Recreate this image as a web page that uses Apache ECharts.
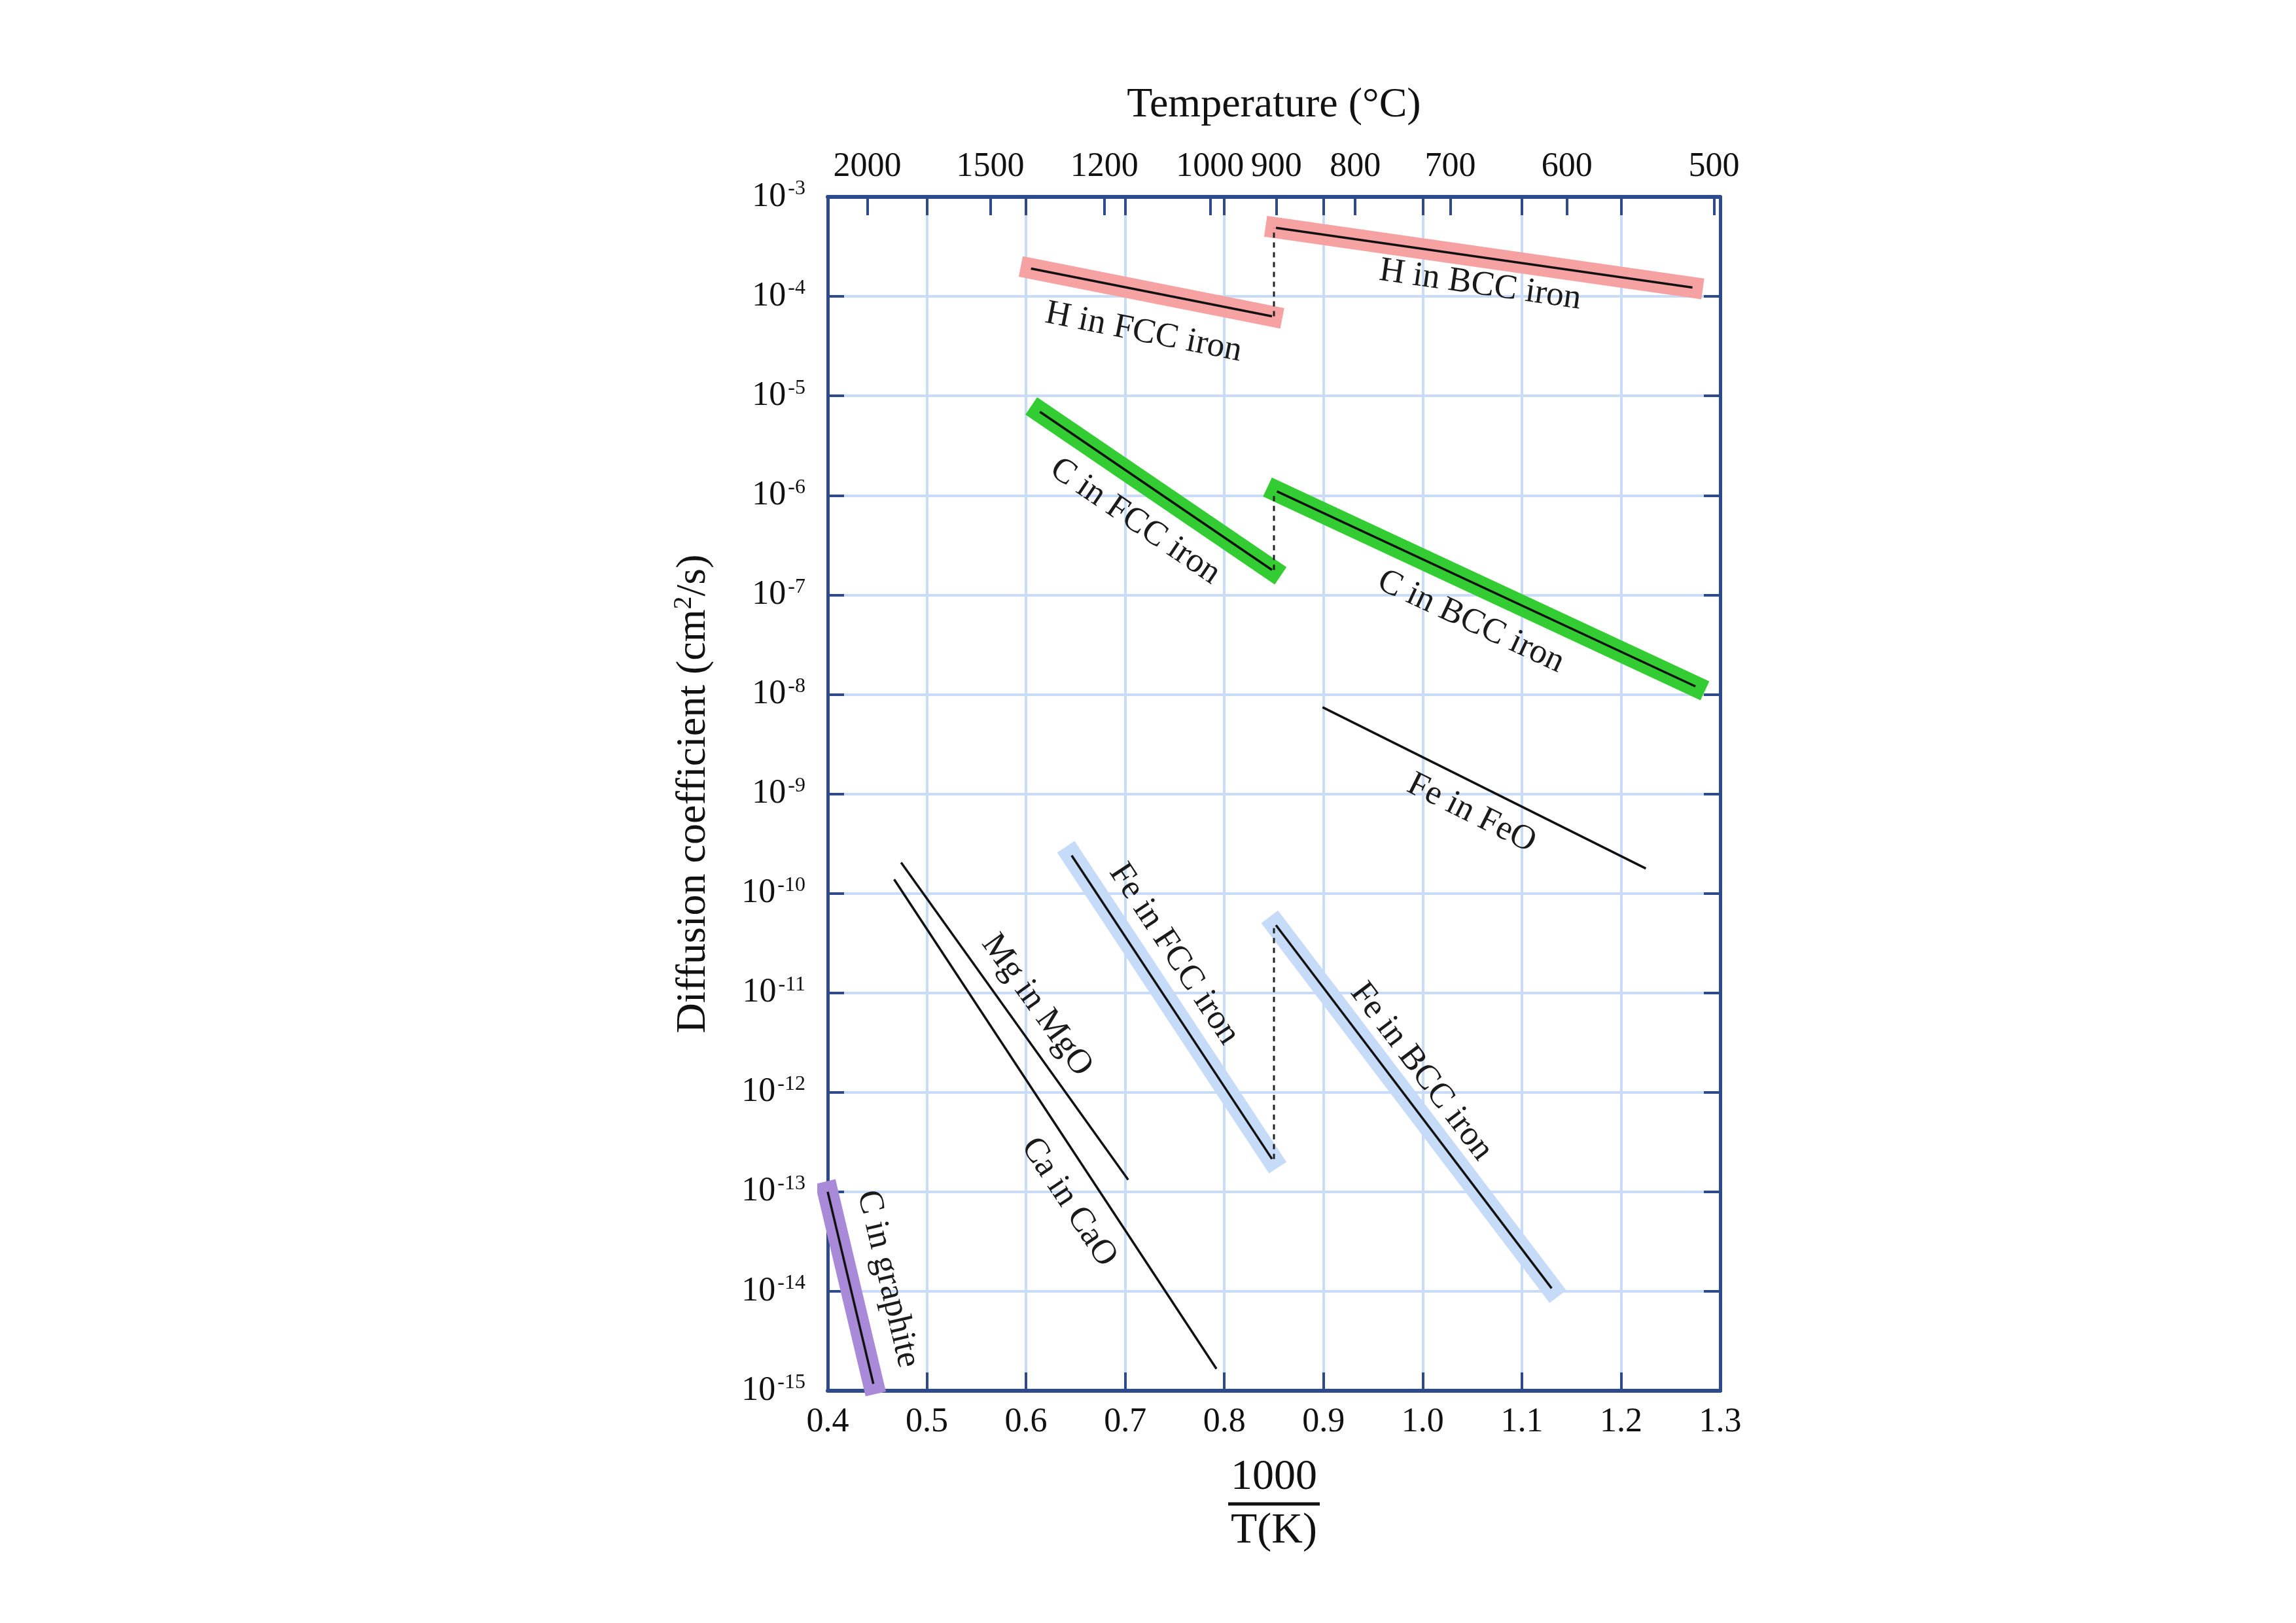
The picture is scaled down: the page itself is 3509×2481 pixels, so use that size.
<!DOCTYPE html>
<html><head><meta charset="utf-8">
<script src="https://cdn.jsdelivr.net/npm/echarts@6/dist/echarts.min.js"></script>
<style>html,body{margin:0;padding:0;background:#fff}#c{width:3509px;height:2481px}</style>
</head><body><div id="c"></div>
<script>
// ---- data (x = 1000/T(K), y = log10 D in cm^2/s) ----
const xTicks = [0.4,0.5,0.6,0.7,0.8,0.9,1.0,1.1,1.2,1.3];
const yExponents = [-15,-14,-13,-12,-11,-10,-9,-8,-7,-6,-5,-4,-3];
const tempLabelsC = [2000,1500,1200,1000,900,800,700,600,500];

const H_BCC   = [[0.852,-3.31],[1.272,-3.91]];
const H_FCC   = [[0.605,-3.72],[0.848,-4.20]];
const C_FCC   = [[0.614,-5.16],[0.848,-6.75]];
const C_BCC   = [[0.853,-5.96],[1.275,-7.92]];
const Fe_FeO  = [[0.899,-8.13],[1.225,-9.75]];
const Mg_MgO  = [[0.474,-9.69],[0.703,-12.88]];
const Ca_CaO  = [[0.467,-9.86],[0.792,-14.78]];
const Fe_FCC  = [[0.646,-9.62],[0.848,-12.67]];
const Fe_BCC  = [[0.852,-10.32],[1.130,-13.97]];
const C_graph = [[0.400,-13.00],[0.446,-14.93]];
const transitionX = 0.85;

// ---- styling ----
const FONT = '"Liberation Serif","DejaVu Serif",serif';
const NAVY = '#2c4a8c';
const GRID = '#c8dcf8';
const tempPos = tempLabelsC.map(t => 1000/(t+273));

const sets = [
  {name:'H in BCC iron',  data:H_BCC,  band:'#f6a2a2', pos:'insideMiddleBottom', dist:16},
  {name:'H in FCC iron',  data:H_FCC,  band:'#f6a2a2', pos:'insideMiddleBottom', dist:36},
  {name:'C in FCC iron',  data:C_FCC,  band:'#33cc33', pos:'insideMiddleBottom', dist:30},
  {name:'C in BCC iron',  data:C_BCC,  band:'#33cc33', pos:'insideMiddleBottom', dist:29},
  {name:'Fe in FeO',      data:Fe_FeO, band:null,      pos:'insideMiddleBottom', dist:17},
  {name:'Mg in MgO',      data:Mg_MgO, band:null,      pos:'insideMiddleTop',    dist:15},
  {name:'Ca in CaO',      data:Ca_CaO, band:null,      pos:'insideStartBottom',  dist:[447,22]},
  {name:'Fe in FCC iron', data:Fe_FCC, band:'#c6dbf7', pos:'insideStartTop',     dist:[52,21]},
  {name:'Fe in BCC iron', data:Fe_BCC, band:'#c6dbf7', pos:'insideStartTop',     dist:[150,15]},
  {name:'C in graphite',  data:C_graph,band:'#a98ad8', pos:'insideMiddleTop',    dist:32}
];
const connectors = [
  [[transitionX, H_FCC[1][1]], [transitionX, H_BCC[0][1]]],
  [[transitionX, C_FCC[1][1]], [transitionX, C_BCC[0][1]]],
  [[transitionX, Fe_FCC[1][1]], [transitionX, Fe_BCC[0][1]]]
];

const series = [];
sets.forEach(s => {
  if (s.band) series.push({
    type:'line', data:s.data, symbol:'none', silent:true, clip:false, z:2,
    lineStyle:{color:s.band, width:32, cap:'square'}, animation:false
  });
  series.push({
    type:'line', name:s.name, data:s.data, symbol:'none', silent:true, z:4, clip:false,
    lineStyle:{color:'#111', width:3.5}, animation:false,
    markLine:{
      silent:true, symbol:'none', animation:false,
      lineStyle:{color:'rgba(0,0,0,0)', width:0},
      label:{show:true, position:s.pos, formatter:s.name, fontFamily:FONT, fontSize:53, color:'#1a1a1a', distance:s.dist},
      data:[[{coord:s.data[0]},{coord:s.data[1]}]]
    }
  });
});
connectors.forEach(c => series.push({
  type:'line', data:c, symbol:'none', silent:true, z:3, animation:false,
  lineStyle:{color:'#222', width:3, type:[8,7]}
}));

const supLabel = v => '{b|10}{s|' + Math.round(v) + '}';

const option = {
  backgroundColor:'#fff',
  animation:false,
  grid:{left:1265, right:880, top:301, bottom:355, containLabel:false},
  xAxis:[
    {type:'value', position:'bottom', min:xTicks[0], max:xTicks[xTicks.length-1], interval:0.1,
     axisLine:{show:true, lineStyle:{color:NAVY, width:6}},
     axisTick:{show:true, inside:true, length:28, lineStyle:{color:NAVY, width:4}},
     axisLabel:{formatter:v => v.toFixed(1), fontFamily:FONT, fontSize:52, color:'#111', margin:22},
     splitLine:{show:true, lineStyle:{color:GRID, width:4}},
     name:'{n|1000}\n{bar|}\n{d|T(K)}', nameLocation:'middle', nameGap:100,
     nameTextStyle:{rich:{
       n:{fontFamily:FONT, fontSize:66, color:'#111', lineHeight:66},
       bar:{width:140, height:5, backgroundColor:'#111', lineHeight:14},
       d:{fontFamily:FONT, fontSize:66, color:'#111', lineHeight:70}
     }}
    },
    {type:'value', position:'top', min:xTicks[0], max:xTicks[xTicks.length-1],
     axisLine:{show:true, lineStyle:{color:NAVY, width:6}},
     axisTick:{show:true, inside:true, length:28, lineStyle:{color:NAVY, width:4},
               customValues: tempPos.concat(xTicks.slice(1,-1))},
     axisLabel:{customValues: tempPos, fontFamily:FONT, fontSize:52, color:'#111', margin:20,
       formatter: v => { let best=0; tempPos.forEach((p,i)=>{ if (Math.abs(p-v) < Math.abs(tempPos[best]-v)) best=i; }); return String(tempLabelsC[best]); }},
     splitLine:{show:false},
     name:'Temperature (°C)', nameLocation:'middle', nameGap:108,
     nameTextStyle:{fontFamily:FONT, fontSize:64, color:'#111'}
    }
  ],
  yAxis:[
    {type:'value', position:'left', min:yExponents[0], max:yExponents[yExponents.length-1], interval:1,
     axisLine:{show:true, lineStyle:{color:NAVY, width:5}},
     axisTick:{show:true, inside:true, length:25, lineStyle:{color:NAVY, width:4}},
     axisLabel:{formatter:supLabel, margin:34, rich:{
       b:{fontFamily:FONT, fontSize:52, color:'#111', lineHeight:56},
       s:{fontFamily:FONT, fontSize:32, color:'#111', verticalAlign:'top', lineHeight:30, padding:[0,0,22,3]}
     }},
     splitLine:{show:true, lineStyle:{color:GRID, width:4}},
     name:'{t|Diffusion coefficient (cm}{s|2}{t|/s)}', nameLocation:'middle', nameGap:170, nameRotate:90,
     nameTextStyle:{rich:{
       t:{fontFamily:FONT, fontSize:64, color:'#111', lineHeight:70},
       s:{fontFamily:FONT, fontSize:40, color:'#111', verticalAlign:'top', lineHeight:40, padding:[0,0,24,0]}
     }}
    },
    {type:'value', position:'right', min:yExponents[0], max:yExponents[yExponents.length-1], interval:1,
     axisLine:{show:true, lineStyle:{color:NAVY, width:5}},
     axisTick:{show:true, inside:true, length:25, lineStyle:{color:NAVY, width:4}},
     axisLabel:{show:false}, splitLine:{show:false}
    }
  ],
  series: series
};
const chart = echarts.init(document.getElementById('c'), null, {renderer:'canvas'});
chart.setOption(option);
</script></body></html>
